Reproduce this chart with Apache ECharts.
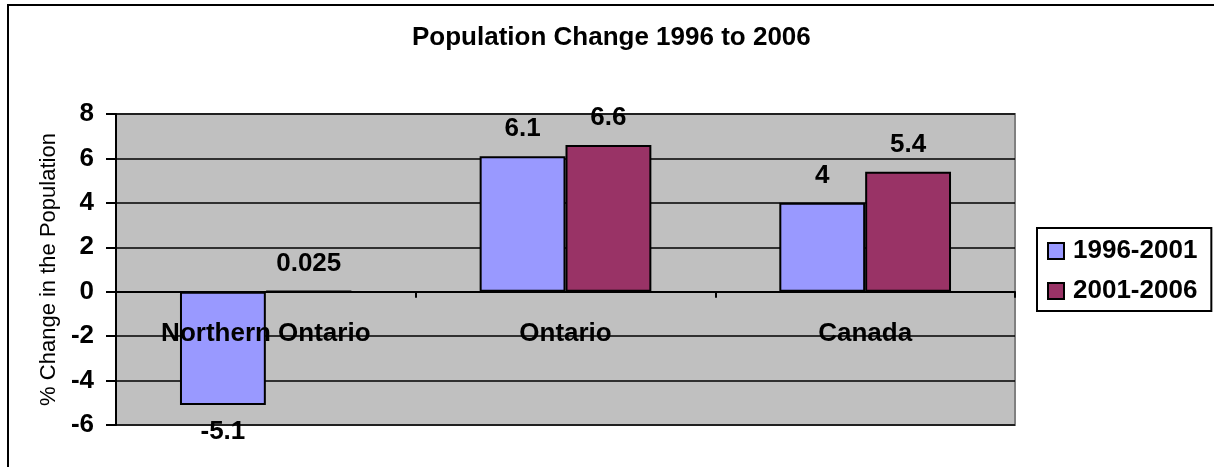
<!DOCTYPE html>
<html>
<head>
<meta charset="utf-8">
<script src="https://cdn.jsdelivr.net/npm/echarts@6/dist/echarts.min.js"></script>
<style>
    html, body { margin: 0; padding: 0; background: #fff; }
    #chart { width: 1214px; height: 467px; }
</style>
</head>
<body>
<div id="chart"></div>
<script>
// --- data ---
const regions = ['Northern Ontario', 'Ontario', 'Canada'];
const seriesNames = ['1996-2001', '2001-2006'];
const change9601 = [-5.1, 6.1, 4];
const change0106 = [0.025, 6.6, 5.4];
const yTicks = [-6, -4, -2, 0, 2, 4, 6, 8];

const barColors = ['#9999FF', '#993366'];
const boldFont = { fontFamily: 'Arial, "Liberation Sans", sans-serif', fontWeight: 'bold', fontSize: 26, color: '#000' };

// negative bars get their label underneath
function toData(values) {
    return values.map(v => ({
        value: v,
        label: { position: v < 0 ? 'bottom' : 'top' }
    }));
}

const chart = echarts.init(document.getElementById('chart'));

chart.setOption({
    backgroundColor: '#fff',
    animation: false,
    title: {
        text: 'Population Change 1996 to 2006',
        left: 412,
        top: 25,
        padding: 0,
        textStyle: boldFont
    },
    legend: {
        orient: 'vertical',
        left: 1037,
        top: 228,
        padding: [10, 14, 7, 10],
        itemGap: 14,
        itemWidth: 16,
        itemHeight: 16,
        borderColor: '#000',
        borderWidth: 2,
        icon: 'rect',
        textStyle: Object.assign({}, boldFont, { padding: [0, 0, 0, 4] }),
        data: seriesNames
    },
    grid: {
        left: 116,
        top: 114,
        width: 899,
        height: 311,
        show: true,
        backgroundColor: '#C0C0C0',
        borderColor: '#808080',
        borderWidth: 2
    },
    xAxis: {
        type: 'category',
        data: regions,
        z: 10,
        axisLine: { onZero: true, lineStyle: { color: '#000', width: 2 } },
        axisTick: { show: true, length: 6, lineStyle: { color: '#000', width: 2 } },
        // category names sit inside the plot, just under the zero line
        axisLabel: Object.assign({}, boldFont, { margin: -104, interval: 0 }),
        splitLine: { show: false }
    },
    yAxis: {
        type: 'value',
        min: yTicks[0],
        max: yTicks[yTicks.length - 1],
        interval: 2,
        name: '% Change in the Population',
        nameLocation: 'middle',
        nameGap: 52,
        nameTextStyle: { fontFamily: 'Arial, "Liberation Sans", sans-serif', fontSize: 22, color: '#000' },
        axisLine: { show: true, lineStyle: { color: '#000', width: 2 } },
        axisTick: { show: true, length: 10, lineStyle: { color: '#000', width: 2 } },
        axisLabel: Object.assign({}, boldFont, { margin: 22 }),
        splitLine: { show: true, lineStyle: { color: '#000', width: 1.5 } }
    },
    series: [
        {
            name: seriesNames[0],
            type: 'bar',
            data: toData(change9601),
            barGap: '0%',
            barCategoryGap: '42.7%',
            itemStyle: { color: barColors[0], borderColor: '#000', borderWidth: 2 },
            label: Object.assign({ show: true, distance: 14 }, boldFont)
        },
        {
            name: seriesNames[1],
            type: 'bar',
            data: toData(change0106),
            barGap: '0%',
            barCategoryGap: '42.7%',
            itemStyle: { color: barColors[1], borderColor: '#000', borderWidth: 2 },
            label: Object.assign({ show: true, distance: 14 }, boldFont)
        }
    ],
    graphic: [{
        type: 'rect',
        shape: { x: 8, y: 5, width: 1230, height: 480 },
        style: { fill: null, stroke: '#000', lineWidth: 2 },
        silent: true
    }]
});

window.addEventListener('resize', function () {
    chart.resize();
});
</script>
</body>
</html>
